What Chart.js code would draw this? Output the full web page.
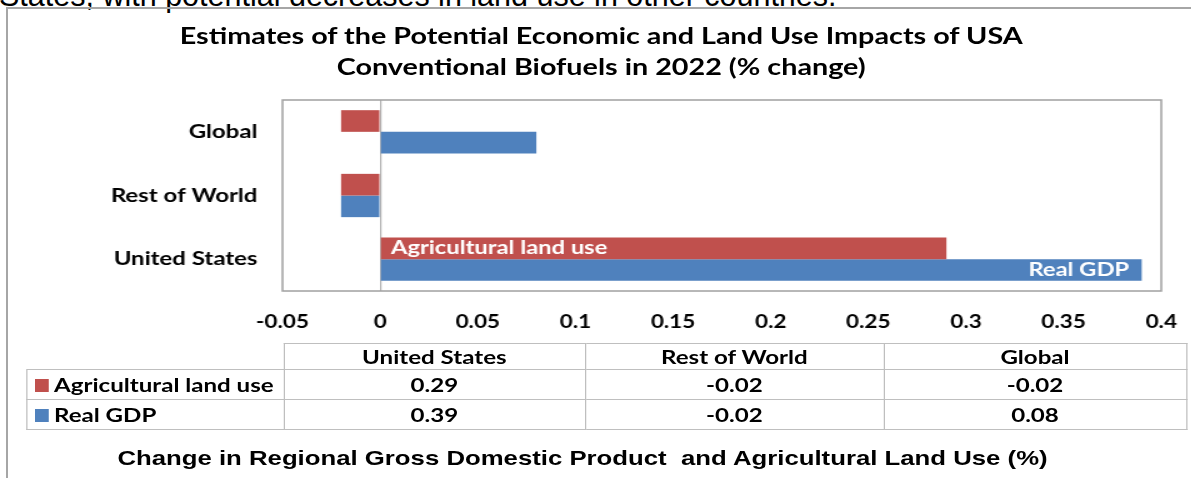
<!DOCTYPE html>
<html lang="en">
<head>
  <meta charset="UTF-8">
  <title>Biofuels impacts</title>
  <script src="https://cdn.jsdelivr.net/npm/chart.js"></script>
  <style>
    body { margin: 0; width: 1191px; height: 478px; overflow: hidden; background: #fff; position: relative; font-family: Lato, sans-serif; }
    #topline { position: absolute; left: -1px; top: -22px; font-family: "Liberation Sans", Arial, sans-serif; font-size: 30.5px; line-height: 34px; white-space: nowrap; color: #000; }
    #frame { position: absolute; left: 6px; top: 7px; width: 1200px; height: 500px; border: 2px solid #a6a6a6; }
    /* 元画像は横に引き伸ばされているので、まとめて scaleX */
    #wrap { position: absolute; left: 0; top: 0; width: 953px; height: 478px; transform: scaleX(1.25); transform-origin: 0 0; }
    #title { position: absolute; left: 0; width: 962px; top: 20px; text-align: center; font-weight: bold; font-size: 23px; line-height: 31px; }
    #chartBox { position: absolute; left: 0; top: 90px; width: 953px; height: 250px; }
    #tbl { position: absolute; left: 21px; top: 343px; border-collapse: collapse; font-weight: bold; font-size: 19.3px; }
    #tbl td { border: 1.2px solid #bfbfbf; text-align: center; padding: 0; line-height: 1; }
    #tbl td.blank { border: none; border-bottom: 1.2px solid #bfbfbf; }
    #tbl td.lab { text-align: left; padding-left: 6px; }
    .sw { display: inline-block; width: 11.2px; height: 13px; margin-right: 4px; vertical-align: 0px; }
    #caption { position: absolute; left: 0; width: 932px; top: 446px; text-align: center; font-family: "Liberation Sans", Arial, sans-serif; font-weight: bold; font-size: 20.6px; white-space: pre; }
  </style>
</head>
<body>
  <div id="topline">States, with potential decreases in land use in other countries.</div>
  <div id="frame"></div>
  <div id="wrap">
    <div id="title">Estimates of the Potential Economic and Land Use Impacts of USA<br>Conventional Biofuels in 2022 (% change)</div>
    <div id="chartBox"><canvas id="c"></canvas></div>
    <table id="tbl"></table>
    <div id="caption">Change in Regional Gross Domestic Product  and Agricultural Land Use (%)</div>
  </div>

  <script>
    // データ（表の並び順）
    const regions = ['United States', 'Rest of World', 'Global'];
    const landUse = [0.29, -0.02, -0.02];
    const realGdp = [0.39, -0.02, 0.08];
    const seriesNames = ['Agricultural land use', 'Real GDP'];
    const xTicks = [-0.05, 0, 0.05, 0.1, 0.15, 0.2, 0.25, 0.3, 0.35, 0.4];

    const red = '#C0504D';
    const blue = '#4F81BD';

    // グラフは上から Global → United States
    const labelsTopDown = regions.slice().reverse();
    const landTopDown = landUse.slice().reverse();
    const gdpTopDown = realGdp.slice().reverse();

    // 枠とバー内ラベル
    const framePlugin = {
      id: 'frameAndLabels',
      beforeDatasetsDraw(chart) {
        const { ctx, chartArea: a } = chart;
        ctx.save();
        ctx.strokeStyle = '#a0a0a0';
        ctx.lineWidth = 1.5;
        ctx.strokeRect(a.left, a.top, a.right - a.left, a.bottom - a.top);
        ctx.restore();
      },
      afterDatasetsDraw(chart) {
        const { ctx } = chart;
        const usIdx = labelsTopDown.indexOf('United States');
        const r = chart.getDatasetMeta(0).data[usIdx];
        const b = chart.getDatasetMeta(1).data[usIdx];
        ctx.save();
        ctx.fillStyle = '#fff';
        ctx.font = 'bold 19px Lato';
        ctx.textBaseline = 'middle';
        ctx.textAlign = 'left';
        ctx.fillText(seriesNames[0], r.base + 8, r.y);
        ctx.textAlign = 'right';
        ctx.fillText(seriesNames[1], b.x - 10, b.y);
        ctx.restore();
      }
    };

    new Chart(document.getElementById('c'), {
      type: 'bar',
      data: {
        labels: labelsTopDown,
        datasets: [
          { label: seriesNames[0], data: landTopDown, backgroundColor: red, categoryPercentage: 0.68, barPercentage: 1 },
          { label: seriesNames[1], data: gdpTopDown, backgroundColor: blue, categoryPercentage: 0.68, barPercentage: 1 }
        ]
      },
      options: {
        indexAxis: 'y',
        responsive: true,
        maintainAspectRatio: false,
        animation: false,
        layout: { padding: { top: 10, right: 24, left: 0, bottom: 0 } },
        plugins: { legend: { display: false }, tooltip: { enabled: false } },
        scales: {
          x: {
            min: -0.05, max: 0.4,
            afterBuildTicks: (s) => { s.ticks = xTicks.map(v => ({ value: v })); },
            afterFit: (s) => { s.height = 49; s.paddingLeft = 0; s.paddingRight = 0; },
            grid: {
              drawTicks: false,
              color: (c) => (c.tick && c.tick.value === 0) ? '#b0b0b0' : 'rgba(0,0,0,0)',
              lineWidth: 1.2
            },
            border: { display: false },
            ticks: {
              padding: 20,
              color: '#000',
              font: { family: 'Lato', weight: 'bold', size: 18 },
              maxRotation: 0,
              callback: (v) => String(Number(v.toFixed(2)))
            }
          },
          y: {
            afterFit: (s) => { s.width = 226; s.paddingTop = 0; s.paddingBottom = 0; },
            grid: { display: false, drawTicks: false },
            border: { display: false },
            ticks: {
              padding: 20,
              color: '#000',
              font: { family: 'Lato', weight: 'bold', size: 19.2 }
            }
          }
        }
      },
      plugins: [framePlugin]
    });

    // データ表
    const tbl = document.getElementById('tbl');
    const colW = [205, 240, 238, 241];
    let html = '<tr style="height:26px"><td class="blank" style="width:' + colW[0] + 'px"></td>';
    regions.forEach((r, i) => { html += '<td style="width:' + colW[i + 1] + 'px">' + r + '</td>'; });
    html += '</tr>';
    [[seriesNames[0], landUse, red], [seriesNames[1], realGdp, blue]].forEach(([name, vals, col]) => {
      html += '<tr style="height:30px"><td class="lab"><span class="sw" style="background:' + col + '"></span>' + name + '</td>';
      vals.forEach(v => { html += '<td>' + v.toFixed(2) + '</td>'; });
      html += '</tr>';
    });
    tbl.innerHTML = html;
  </script>
</body>
</html>
